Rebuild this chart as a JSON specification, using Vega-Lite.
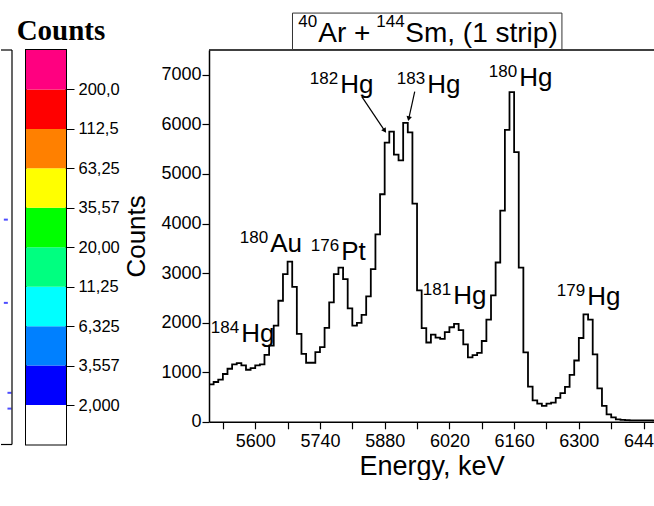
{
  "$schema": "https://vega.github.io/schema/vega-lite/v6.json",
  "background": "white",
  "padding": {"left": 0, "top": 12, "right": 0, "bottom": 0},
  "spacing": 2,
  "config": {
    "view": {"stroke": null},
    "font": "Liberation Sans",
    "axis": {"grid": false, "labelColor": "black", "titleColor": "black", "tickColor": "black", "domainColor": "black", "labelFont": "Liberation Sans", "titleFont": "Liberation Sans", "titleFontWeight": "normal"}
  },
  "datasets": {
    "fragment": [
      {"u": 0.44, "v": 0.570},
      {"u": 0.44, "v": 0.359},
      {"u": 0.77, "v": 0.131},
      {"u": 0.77, "v": 0.091}
    ],
    "bands": [
      {"lo": 1.125, "hi": 2, "band": "<2,000"},
      {"lo": 2, "hi": 3.557, "band": "2,000-3,557"},
      {"lo": 3.557, "hi": 6.325, "band": "3,557-6,325"},
      {"lo": 6.325, "hi": 11.25, "band": "6,325-11,25"},
      {"lo": 11.25, "hi": 20, "band": "11,25-20,00"},
      {"lo": 20, "hi": 35.57, "band": "20,00-35,57"},
      {"lo": 35.57, "hi": 63.25, "band": "35,57-63,25"},
      {"lo": 63.25, "hi": 112.5, "band": "63,25-112,5"},
      {"lo": 112.5, "hi": 200, "band": "112,5-200,0"},
      {"lo": 200, "hi": 355.7, "band": ">200,0"}
    ],
    "spectrum": [
      {"energy": 5500, "counts": 755}, {"energy": 5510, "counts": 803}, {"energy": 5520, "counts": 849},
      {"energy": 5530, "counts": 964}, {"energy": 5540, "counts": 1070}, {"energy": 5550, "counts": 1157},
      {"energy": 5560, "counts": 1185}, {"energy": 5570, "counts": 1137}, {"energy": 5580, "counts": 1050},
      {"energy": 5590, "counts": 1084}, {"energy": 5600, "counts": 1137}, {"energy": 5610, "counts": 1157},
      {"energy": 5620, "counts": 1351}, {"energy": 5630, "counts": 1538}, {"energy": 5640, "counts": 1940},
      {"energy": 5650, "counts": 2442}, {"energy": 5660, "counts": 2978}, {"energy": 5670, "counts": 3233},
      {"energy": 5680, "counts": 2723}, {"energy": 5690, "counts": 1773}, {"energy": 5700, "counts": 1371},
      {"energy": 5710, "counts": 1191}, {"energy": 5720, "counts": 1191}, {"energy": 5730, "counts": 1406},
      {"energy": 5740, "counts": 1506}, {"energy": 5750, "counts": 1894}, {"energy": 5760, "counts": 2410},
      {"energy": 5770, "counts": 2978}, {"energy": 5780, "counts": 3112}, {"energy": 5790, "counts": 2878},
      {"energy": 5800, "counts": 2289}, {"energy": 5810, "counts": 1940}, {"energy": 5820, "counts": 1994},
      {"energy": 5830, "counts": 2155}, {"energy": 5840, "counts": 2530}, {"energy": 5850, "counts": 3078},
      {"energy": 5860, "counts": 3781}, {"energy": 5870, "counts": 4590}, {"energy": 5880, "counts": 5630},
      {"energy": 5890, "counts": 5855}, {"energy": 5900, "counts": 5388}, {"energy": 5910, "counts": 5273},
      {"energy": 5920, "counts": 6030}, {"energy": 5930, "counts": 5840}, {"energy": 5940, "counts": 4400},
      {"energy": 5950, "counts": 2650}, {"energy": 5960, "counts": 1890}, {"energy": 5970, "counts": 1600},
      {"energy": 5980, "counts": 1760}, {"energy": 5990, "counts": 1700}, {"energy": 6000, "counts": 1673},
      {"energy": 6010, "counts": 1807}, {"energy": 6020, "counts": 1907}, {"energy": 6030, "counts": 1974},
      {"energy": 6040, "counts": 1850}, {"energy": 6050, "counts": 1560}, {"energy": 6060, "counts": 1300},
      {"energy": 6070, "counts": 1345}, {"energy": 6080, "counts": 1392}, {"energy": 6090, "counts": 1630},
      {"energy": 6100, "counts": 2060}, {"energy": 6110, "counts": 2550}, {"energy": 6120, "counts": 3213},
      {"energy": 6130, "counts": 4260}, {"energy": 6140, "counts": 5890}, {"energy": 6150, "counts": 6650},
      {"energy": 6160, "counts": 5440}, {"energy": 6170, "counts": 3112}, {"energy": 6180, "counts": 1400},
      {"energy": 6190, "counts": 710}, {"energy": 6200, "counts": 434}, {"energy": 6210, "counts": 367},
      {"energy": 6220, "counts": 321}, {"energy": 6230, "counts": 367}, {"energy": 6240, "counts": 388},
      {"energy": 6250, "counts": 482}, {"energy": 6260, "counts": 580}, {"energy": 6270, "counts": 703},
      {"energy": 6280, "counts": 945}, {"energy": 6290, "counts": 1237}, {"energy": 6300, "counts": 1690},
      {"energy": 6310, "counts": 2165}, {"energy": 6320, "counts": 2060}, {"energy": 6330, "counts": 1360},
      {"energy": 6340, "counts": 676}, {"energy": 6350, "counts": 320}, {"energy": 6360, "counts": 150},
      {"energy": 6370, "counts": 90}, {"energy": 6380, "counts": 50}, {"energy": 6390, "counts": 40},
      {"energy": 6400, "counts": 33}, {"energy": 6410, "counts": 30}, {"energy": 6420, "counts": 30},
      {"energy": 6430, "counts": 30}, {"energy": 6440, "counts": 28}, {"energy": 6450, "counts": 28},
      {"energy": 6460, "counts": 25}, {"energy": 6470, "counts": 25}
    ],
    "peaks": [
      {"mass": "182", "element": "Hg", "energy": 5781.6, "counts": 6633},
      {"mass": "183", "element": "Hg", "energy": 5969.8, "counts": 6633},
      {"mass": "180", "element": "Hg", "energy": 6168.8, "counts": 6773},
      {"mass": "180", "element": "Au", "energy": 5630.2, "counts": 3420},
      {"mass": "176", "element": "Pt", "energy": 5783.8, "counts": 3259},
      {"mass": "181", "element": "Hg", "energy": 6026, "counts": 2376},
      {"mass": "179", "element": "Hg", "energy": 6315.9, "counts": 2355},
      {"mass": "184", "element": "Hg", "energy": 5567.5, "counts": 1612}
    ],
    "arrows": [
      {"nuclide": "182Hg", "e0": 5830.5, "c0": 6559, "e1": 5880.2, "c1": 5870},
      {"nuclide": "183Hg", "e0": 5945, "c0": 6660, "e1": 5932, "c1": 6113}
    ]
  },
  "hconcat": [
    {
      "width": 11,
      "height": 394.5,
      "layer": [
        {
          "data": {"name": "fragment"},
          "mark": {"type": "tick", "orient": "horizontal", "color": "#0000ff", "size": 4, "thickness": 2},
          "encoding": {
            "x": {"field": "u", "type": "quantitative", "scale": {"domain": [0, 1], "nice": false}, "axis": null},
            "y": {"field": "v", "type": "quantitative", "scale": {"domain": [0, 1], "nice": false}, "axis": null}
          }
        },
        {
          "data": {"values": [{}]},
          "mark": {"type": "rule", "color": "black", "strokeWidth": 1.2},
          "encoding": {"y": {"datum": 1, "type": "quantitative"}}
        },
        {
          "data": {"values": [{}]},
          "mark": {"type": "rule", "color": "black", "strokeWidth": 1.2},
          "encoding": {"y": {"datum": 0, "type": "quantitative"}}
        },
        {
          "data": {"values": [{}]},
          "mark": {"type": "rule", "color": "black", "strokeWidth": 1.2},
          "encoding": {"x": {"datum": 1, "type": "quantitative"}}
        }
      ]
    },
    {
      "width": 40,
      "height": 394.5,
      "view": {"stroke": "black", "strokeWidth": 2},
      "layer": [
        {
          "data": {"name": "bands"},
          "mark": {"type": "rect"},
          "encoding": {
            "y": {
              "field": "lo", "type": "quantitative",
              "scale": {"type": "log", "domain": [1.125, 355.7], "nice": false},
              "axis": {
                "orient": "right", "title": null, "domain": false,
                "values": [2, 3.557, 6.325, 11.25, 20, 35.57, 63.25, 112.5, 200],
                "labelExpr": "replace(format(datum.value, '.4r'), '.', ',')",
                "tickSize": 8, "tickWidth": 1, "labelPadding": 4, "labelFontSize": 16.5,
                "labelOverlap": false, "labelFlush": false
              }
            },
            "y2": {"field": "hi"},
            "color": {
              "field": "band", "type": "nominal", "legend": null,
              "scale": {
                "domain": ["<2,000", "2,000-3,557", "3,557-6,325", "6,325-11,25", "11,25-20,00", "20,00-35,57", "35,57-63,25", "63,25-112,5", "112,5-200,0", ">200,0"],
                "range": ["#ffffff", "#0000ff", "#0080ff", "#00ffff", "#00ff80", "#00ff00", "#ffff00", "#ff8000", "#ff0000", "#ff0080"]
              }
            }
          }
        },
        {
          "data": {"values": [{}]},
          "mark": {"type": "text", "font": "Liberation Serif", "fontSize": 29, "fontWeight": "bold", "align": "center", "baseline": "alphabetic", "dx": 15, "color": "black"},
          "encoding": {
            "y": {"datum": 409.5, "type": "quantitative"},
            "text": {"value": "Counts"}
          }
        }
      ]
    },
    {
      "width": 445.2,
      "height": 371.8,
      "resolve": {"axis": {"x": "independent"}},
      "encoding": {
        "x": {"type": "quantitative", "scale": {"domain": [5500, 6463], "nice": false, "zero": false}},
        "y": {"type": "quantitative", "scale": {"domain": [0, 7500], "nice": false}}
      },
      "layer": [
        {
          "data": {"name": "spectrum"},
          "mark": {"type": "line", "interpolate": "step-after", "color": "black", "strokeWidth": 1.8, "clip": true},
          "encoding": {
            "x": {
              "field": "energy", "type": "quantitative",
              "axis": {
                "orient": "bottom", "title": "Energy, keV", "format": "d",
                "values": [5600, 5740, 5880, 6020, 6160, 6300, 6440],
                "labelFontSize": 18, "titleFontSize": 27, "tickSize": 7, "tickWidth": 1.2, "domainWidth": 1.5,
                "labelPadding": 4, "titlePadding": 3, "labelOverlap": false, "labelFlush": false
              }
            },
            "y": {
              "field": "counts", "type": "quantitative",
              "axis": {
                "title": "Counts",
                "values": [0, 500, 1000, 1500, 2000, 2500, 3000, 3500, 4000, 4500, 5000, 5500, 6000, 6500, 7000],
                "labelExpr": "datum.value % 1000 === 0 ? format(datum.value, 'd') : ''",
                "labelFontSize": 18, "titleFontSize": 26, "tickSize": 7, "tickWidth": 1.2, "domainWidth": 1.5,
                "labelPadding": 1, "titlePadding": 11, "labelOverlap": false, "labelFlush": false
              }
            }
          }
        },
        {
          "data": {"values": [{}]},
          "mark": {"type": "rule", "color": "black", "strokeWidth": 1.5},
          "encoding": {"y": {"datum": 7500}}
        },
        {
          "data": {"values": [{}]},
          "mark": {"type": "rect", "fill": "white", "stroke": "#333333", "strokeWidth": 1},
          "encoding": {
            "x": {
              "datum": 5680.6,
              "axis": {
                "orient": "bottom", "title": null, "labels": false, "domain": false,
                "values": [5530, 5670, 5810, 5950, 6090, 6230, 6370],
                "tickSize": 7, "tickWidth": 1.2
              }
            },
            "x2": {"datum": 6263.4},
            "y": {"datum": 7510}, "y2": {"datum": 8245}
          }
        },
        {
          "data": {"values": [{}]},
          "mark": {"type": "text", "fontSize": 17, "align": "left", "baseline": "alphabetic", "color": "black"},
          "encoding": {"x": {"datum": 5693, "axis": null}, "y": {"datum": 7954}, "text": {"value": "40"}}
        },
        {
          "data": {"values": [{}]},
          "mark": {"type": "text", "fontSize": 28, "align": "left", "baseline": "alphabetic", "color": "black"},
          "encoding": {"x": {"datum": 5736.3, "axis": null}, "y": {"datum": 7663}, "text": {"value": "Ar +"}}
        },
        {
          "data": {"values": [{}]},
          "mark": {"type": "text", "fontSize": 17, "align": "left", "baseline": "alphabetic", "color": "black"},
          "encoding": {"x": {"datum": 5862, "axis": null}, "y": {"datum": 7954}, "text": {"value": "144"}}
        },
        {
          "data": {"values": [{}]},
          "mark": {"type": "text", "fontSize": 28, "align": "left", "baseline": "alphabetic", "color": "black"},
          "encoding": {"x": {"datum": 5924.5, "axis": null}, "y": {"datum": 7663}, "text": {"value": "Sm, (1 strip)"}}
        },
        {
          "data": {"name": "arrows"},
          "mark": {"type": "rule", "color": "black", "strokeWidth": 1.2},
          "encoding": {
            "x": {"field": "e0", "axis": null}, "y": {"field": "c0"},
            "x2": {"field": "e1"}, "y2": {"field": "c1"}
          }
        },
        {
          "data": {"name": "arrows"},
          "transform": [{"filter": "datum.nuclide === '182Hg'"}],
          "mark": {"type": "point", "shape": "triangle-up", "filled": true, "color": "black", "size": 30, "angle": 146, "opacity": 1},
          "encoding": {"x": {"field": "e1", "axis": null}, "y": {"field": "c1"}}
        },
        {
          "data": {"name": "arrows"},
          "transform": [{"filter": "datum.nuclide === '183Hg'"}],
          "mark": {"type": "point", "shape": "triangle-up", "filled": true, "color": "black", "size": 30, "angle": 192, "opacity": 1},
          "encoding": {"x": {"field": "e1", "axis": null}, "y": {"field": "c1"}}
        },
        {
          "data": {"name": "peaks"},
          "mark": {"type": "text", "fontSize": 26, "align": "left", "baseline": "alphabetic", "dx": 1, "color": "black"},
          "encoding": {"x": {"field": "energy", "axis": null}, "y": {"field": "counts"}, "text": {"field": "element"}}
        },
        {
          "data": {"name": "peaks"},
          "mark": {"type": "text", "fontSize": 17, "align": "right", "baseline": "alphabetic", "dx": -1, "dy": -9, "color": "black"},
          "encoding": {"x": {"field": "energy", "axis": null}, "y": {"field": "counts"}, "text": {"field": "mass"}}
        }
      ]
    }
  ]
}
